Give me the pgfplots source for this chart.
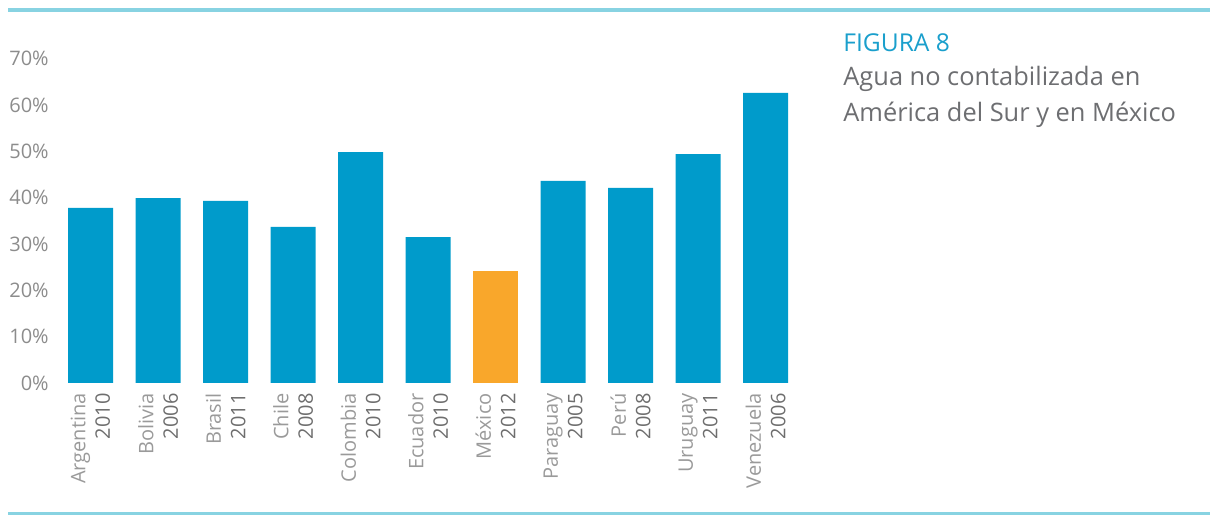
\documentclass[border=0pt]{standalone}
\usepackage{fontspec}
\setmainfont{Open Sans}
\usepackage{pgfplots}
\pgfplotsset{compat=1.18}
\definecolor{barblue}{HTML}{009BCB}
\definecolor{barorange}{HTML}{F9A72B}
\definecolor{rulecol}{HTML}{88D3E2}
\definecolor{tickgray}{HTML}{8C8C8C}
\definecolor{namegray}{HTML}{9A9A9A}
\definecolor{yeargray}{HTML}{6E6E6E}
\definecolor{titleblue}{HTML}{1A9FCC}
\definecolor{textgray}{HTML}{6D6E71}
\begin{document}
\begin{tikzpicture}
\path[use as bounding box] (0,0) rectangle (605pt,258.5pt);
\draw[rulecol, line width=2pt] (4pt,253.5pt) -- (605pt,253.5pt);
\draw[rulecol, line width=1.5pt] (4pt,1.5pt) -- (605pt,1.5pt);
\begin{axis}[
  at={(28.375pt,67pt)}, anchor=south west,
  scale only axis, width=371.25pt, height=162.2pt,
  xmin=-0.5, xmax=10.5, ymin=0, ymax=70,
  axis x line*=bottom, axis y line*=left,
  axis line style={draw=none},
  major tick length=0pt,
  ytick={0,10,...,70},
  yticklabel={\pgfmathprintnumber{\tick}\%},
  /pgf/number format/assume math mode=true,
  yticklabel style={font=\fontsize{10}{12}\selectfont, text=tickgray, xshift=-0.5pt},
  xtick={0,...,10},
  xticklabels={
    {\textcolor{namegray}{Argentina}\\\textcolor{yeargray}{2010}},
    {\textcolor{namegray}{Bolivia}\\\textcolor{yeargray}{2006}},
    {\textcolor{namegray}{Brasil}\\\textcolor{yeargray}{2011}},
    {\textcolor{namegray}{Chile}\\\textcolor{yeargray}{2008}},
    {\textcolor{namegray}{Colombia}\\\textcolor{yeargray}{2010}},
    {\textcolor{namegray}{Ecuador}\\\textcolor{yeargray}{2010}},
    {\textcolor{namegray}{México}\\\textcolor{yeargray}{2012}},
    {\textcolor{namegray}{Paraguay}\\\textcolor{yeargray}{2005}},
    {\textcolor{namegray}{Perú}\\\textcolor{yeargray}{2008}},
    {\textcolor{namegray}{Uruguay}\\\textcolor{yeargray}{2011}},
    {\textcolor{namegray}{Venezuela}\\\textcolor{yeargray}{2006}}},
  xticklabel shift=4pt,
  xticklabel style={font=\fontsize{10}{12.25}\selectfont, rotate=90, anchor=east, align=right, inner sep=1pt},
  ybar, bar width=22.5pt,
]
\addplot[fill=barblue, draw=none, bar shift=0pt] coordinates {
  (0,37.8) (1,39.9) (2,39.3) (3,33.7) (4,49.8) (5,31.5)
  (7,43.6) (8,42.1) (9,49.4) (10,62.6)};
\addplot[fill=barorange, draw=none, bar shift=0pt] coordinates {(6,24.2)};
\end{axis}
\node[anchor=base west, inner sep=0pt, text=titleblue, font=\fontsize{12.3}{14}\selectfont] at (421.5pt,232.5pt) {FIGURA 8};
\node[anchor=base west, inner sep=0pt, text=textgray, font=\fontsize{12.7}{14}\selectfont] at (421.5pt,215.5pt) {Agua no contabilizada en};
\node[anchor=base west, inner sep=0pt, text=textgray, font=\fontsize{12.7}{14}\selectfont] at (421.5pt,197.5pt) {América del Sur y en México};
\end{tikzpicture}
\end{document}
